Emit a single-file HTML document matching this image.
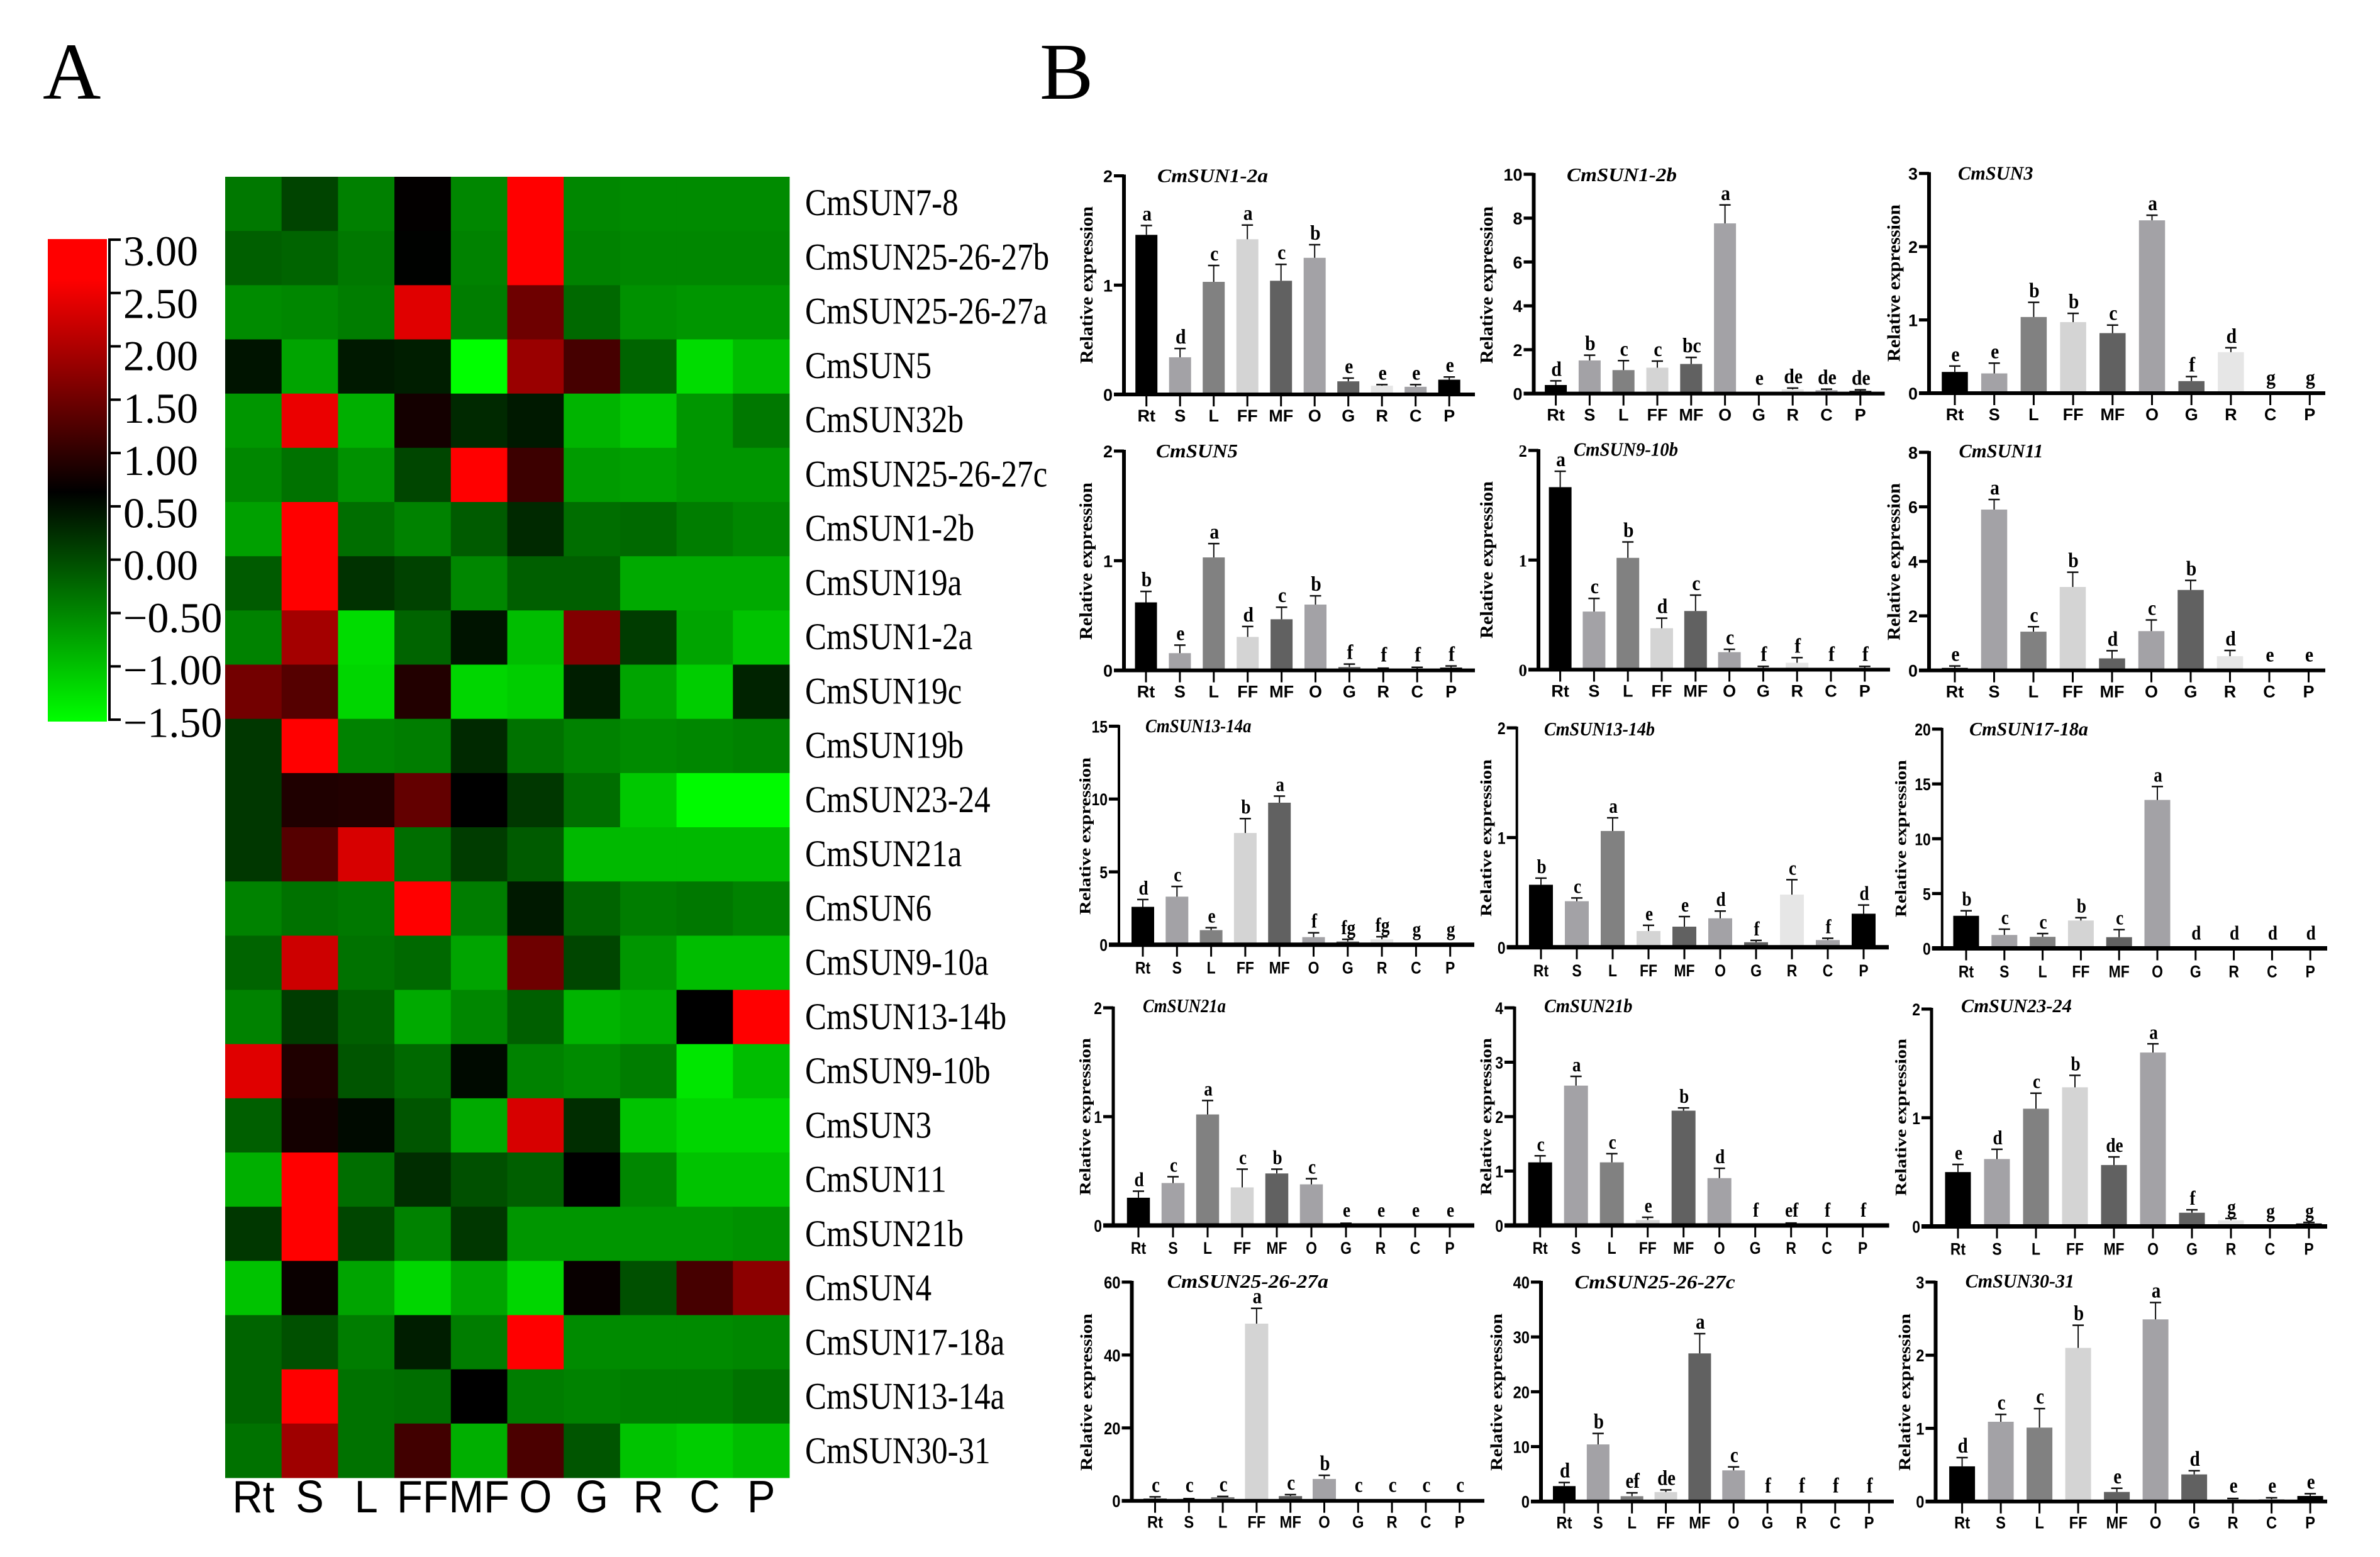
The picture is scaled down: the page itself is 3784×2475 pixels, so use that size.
<!DOCTYPE html>
<html lang="en">
<head>
<meta charset="utf-8">
<title>CmSUN expression heatmap and bar charts</title>
<style>
html,body{margin:0;padding:0;background:#fff;}
svg{display:block;}
</style>
</head>
<body>
<svg id="figure" xmlns="http://www.w3.org/2000/svg" width="3784" height="2475" viewBox="0 0 3784 2475">
<defs>
<linearGradient id="heat-gradient" x1="0" y1="1" x2="0" y2="0">
<stop offset="0" stop-color="#00ff00"/>
<stop offset="0.476" stop-color="#000000"/>
<stop offset="0.917" stop-color="#ff0000"/>
<stop offset="1" stop-color="#ff0000"/>
</linearGradient>
</defs>
<rect x="0" y="0" width="3784" height="2475" fill="#ffffff"/>
<text x="68" y="157" font-family="'Liberation Serif',serif" font-size="128" fill="#000">A</text>
<text x="1653" y="157" font-family="'Liberation Serif',serif" font-size="128" fill="#000">B</text>
<rect x="76" y="380" width="94" height="767" fill="url(#heat-gradient)"/>
<g id="colorbar-axis"></g>
<g id="heatmap"></g>
<g id="bar-panels"></g>
</svg>
<script>
/* ---------- data ---------- */
const tissues = ['Rt','S','L','FF','MF','O','G','R','C','P'];
const geneRows = ['CmSUN7-8','CmSUN25-26-27b','CmSUN25-26-27a','CmSUN5','CmSUN32b','CmSUN25-26-27c','CmSUN1-2b','CmSUN19a','CmSUN1-2a','CmSUN19c','CmSUN19b','CmSUN23-24','CmSUN21a','CmSUN6','CmSUN9-10a','CmSUN13-14b','CmSUN9-10b','CmSUN3','CmSUN11','CmSUN21b','CmSUN4','CmSUN17-18a','CmSUN13-14a','CmSUN30-31'];
const heatValues = [
[-.37,.07,-.43,.66,-.49,3,-.49,-.53,-.53,-.53],
[-.16,-.2,-.37,.62,-.45,3,-.45,-.49,-.49,-.49],
[-.53,-.49,-.41,2.4,-.41,1.5,-.24,-.58,-.62,-.62],
[.47,-.74,.43,.39,-1.5,1.85,1.19,-.2,-1.21,-.95],
[-.62,2.48,-.83,.8,.3,.43,-.87,-1.04,-.62,-.37],
[-.49,-.32,-.58,.05,3,1.11,-.66,-.7,-.62,-.62],
[-.7,3,-.28,-.45,-.12,.3,-.28,-.24,-.41,-.49],
[-.12,3,.22,.09,-.49,-.16,-.16,-.79,-.79,-.79],
[-.45,1.93,-1.21,-.2,.47,-.95,1.66,.14,-.74,-1],
[1.54,1.31,-1.16,.91,-1.16,-1.08,.39,-.74,-1.08,.35],
[.18,3,-.45,-.41,.3,-.32,-.45,-.53,-.49,-.45],
[.18,.88,.91,1.42,.64,.18,-.28,-1.04,-1.46,-1.46],
[.18,1.31,2.33,-.28,.14,-.12,-.91,-.91,-.91,-.91],
[-.45,-.32,-.37,3,-.41,.43,-.2,-.41,-.37,-.45],
[-.2,2.25,-.32,-.24,-.74,1.5,.05,-.62,-.95,-.95],
[-.45,.14,-.16,-.79,-.49,-.16,-.87,-.79,.64,3],
[2.4,.88,-.07,-.24,.56,-.45,-.53,-.41,-1.29,-.95],
[-.16,.8,.56,-.07,-.79,2.33,.26,-1,-1.16,-1.16],
[-.83,3,-.28,.26,-.03,-.16,.64,-.49,-1,-1],
[.18,3,.05,-.45,.18,-.62,-.62,-.62,-.62,-.58],
[-1,.72,-.74,-1.16,-.74,-1.16,.7,-.03,1.19,1.74],
[-.2,-.03,-.41,.39,-.41,3,-.53,-.53,-.53,-.49],
[-.2,3,-.32,-.28,.64,-.41,-.45,-.41,-.41,-.32],
[-.32,1.89,-.32,1.15,-.83,1.23,-.07,-1,-1.08,-.95]
];
const colorbarTicks = [3,2.5,2,1.5,1,0.5,0,-0.5,-1,-1.5];

const panelTitles = ['CmSUN1-2a','CmSUN1-2b','CmSUN3','CmSUN5','CmSUN9-10b','CmSUN11','CmSUN13-14a','CmSUN13-14b','CmSUN17-18a','CmSUN21a','CmSUN21b','CmSUN23-24','CmSUN25-26-27a','CmSUN25-26-27c','CmSUN30-31'];
const panelYMax = [2,10,3,2,2,8,15,2,20,2,4,2,60,40,3];
const panelTickStep = [1,2,1,1,1,2,5,1,5,1,1,1,20,10,1];
const panelMeans = [
[1.46,.34,1.03,1.42,1.04,1.25,.12,.08,.07,.135],
[.39,1.51,1.07,1.18,1.35,7.76,0,.19,.15,.12],
[.29,.27,1.04,.97,.82,2.36,.165,.56,0,0],
[.62,.157,1.03,.305,.466,.6,.03,.016,.012,.025],
[1.665,.53,1.02,.378,.535,.16,.016,.063,.005,.016],
[.09,5.9,1.42,3.06,.44,1.44,2.95,.52,0,0],
[2.6,3.3,1,7.67,9.75,.52,.22,.37,0,0],
[.57,.42,1.06,.148,.188,.264,.046,.48,.066,.306],
[2.97,1.22,1.05,2.54,1.02,13.54,0,0,0,0],
[.255,.39,1.02,.35,.478,.378,.012,.012,0,0],
[1.16,2.57,1.16,.1,2.11,.87,0,.03,0,0],
[.5,.62,1.083,1.28,.565,1.6,.126,.056,0,.027],
[.6,.5,1,48.6,1.3,6,0,0,0,0],
[2.8,10.4,.96,1.72,27,5.67,0,0,0,0],
[.48,1.09,1.01,2.1,.13,2.49,.37,.03,.03,.075]
];
const panelErrorTops = [
[1.545,.42,1.18,1.55,1.19,1.37,.15,.09,.09,.16],
[.58,1.75,1.5,1.48,1.65,8.6,0,.25,.2,.17],
[.37,.41,1.24,1.09,.93,2.43,.226,.62,0,0],
[.72,.23,1.156,.4,.576,.68,.057,.02,.028,.04],
[1.81,.65,1.165,.47,.68,.186,.03,.11,.005,.03],
[.16,6.27,1.6,3.6,.72,1.85,3.3,.73,0,0],
[3.1,4,1.17,8.66,10.2,.82,.37,.55,0,0],
[.63,.45,1.18,.2,.28,.33,.063,.616,.082,.385],
[3.43,1.75,1.35,2.8,1.71,14.76,0,0,0,0],
[.315,.448,1.148,.517,.517,.43,.02,.012,0,0],
[1.28,2.74,1.32,.15,2.16,1.05,0,.045,0,0],
[.57,.71,1.226,1.39,.64,1.68,.153,.073,0,.037],
[1.1,.6,1.2,52.8,1.7,7,0,0,0,0],
[3.45,12.4,1.57,2.1,30.6,6.3,0,0,0,0],
[.6,1.19,1.27,2.41,.18,2.72,.42,.04,.05,.106]
];
const panelLetters = [
['a','d','c','a','c','b','e','e','e','e'],
['d','b','c','c','bc','a','e','de','de','de'],
['e','e','b','b','c','a','f','d','g','g'],
['b','e','a','d','c','b','f','f','f','f'],
['a','c','b','d','c','c','f','f','f','f'],
['e','a','c','b','d','c','b','d','e','e'],
['d','c','e','b','a','f','fg','fg','g','g'],
['b','c','a','e','e','d','f','c','f','d'],
['b','c','c','b','c','a','d','d','d','d'],
['d','c','a','c','b','c','e','e','e','e'],
['c','a','c','e','b','d','f','ef','f','f'],
['e','d','c','b','de','a','f','g','g','g'],
['c','c','c','a','c','b','c','c','c','c'],
['d','b','ef','de','a','c','f','f','f','f'],
['d','c','c','b','e','a','d','e','e','e']
];

/* ---------- layout (pixel frame of each panel, not data) ---------- */
const tissueFills = ['#000000','#a3a2a6','#818181','#d4d4d4','#616161','#a3a2a6','#616161','#e6e6e6','#a3a2a6','#000000'];
const rowStyles = [
{fs:27,tsx:1,ls:33,lsx:.9,ys:26},
{fs:27,tsx:1,ls:33,lsx:.9,ys:26},
{fs:27,tsx:.85,ls:32,lsx:.85,ys:23},
{fs:27,tsx:.85,ls:32,lsx:.85,ys:23},
{fs:27,tsx:.88,ls:34,lsx:.85,ys:24}
];
const panelFrames = [
{ax:1787,y0:627,top:279.5,first:1822.7,dx:53.5,bw:35,end:2345,lx:1729,ly:453,tx:1840,te:2016,ty:279.5,av:6,ah:6,lab:43},
{ax:2438.5,y0:625.6,top:277,first:2473.6,dx:53.8,bw:35,end:2996.5,lx:2365,ly:453,tx:2491,te:2666,ty:278,av:6,ah:6,lab:43},
{ax:3067,y0:625,top:275.7,first:3108,dx:62.7,bw:41.5,end:3697,lx:3012.5,ly:450,tx:3113,te:3232.5,ty:275.6,av:6,ah:6,lab:43},
{ax:1787,y0:1065.6,top:717,first:1822,dx:53.9,bw:35,end:2345,lx:1728,ly:892,tx:1838,te:1968,ty:717,av:6,ah:6,lab:43},
{ax:2446,y0:1064.5,top:716,first:2480.6,dx:53.8,bw:36,end:3005,lx:2365,ly:890,tx:2502,te:2668,ty:714.5,av:6,ah:6,lab:43,serifTicks:true},
{ax:3067,y0:1065.6,top:719,first:3108,dx:62.5,bw:41.5,end:3697,lx:3012.5,ly:893,tx:3114.5,te:3248.5,ty:717,av:6,ah:6,lab:43},
{ax:1779,y0:1501.7,top:1154.4,first:1817,dx:54.3,bw:36,end:2344,lx:1725.5,ly:1329,tx:1821,te:1989.5,ty:1154,av:4,ah:7,lab:46},
{ax:2411.7,y0:1505.8,top:1157,first:2450,dx:57,bw:38,end:3003,lx:2363,ly:1332,tx:2455,te:2631,ty:1159,av:4,ah:7,lab:46},
{ax:3087.8,y0:1507.5,top:1159,first:3126,dx:60.8,bw:41,end:3700,lx:3022.7,ly:1333,tx:3131,te:3320,ty:1159,av:4,ah:7,lab:46},
{ax:1770,y0:1948,top:1602,first:1810,dx:55,bw:36.5,end:2344,lx:1725.5,ly:1775,tx:1817,te:1949,ty:1599,av:5,ah:7,lab:45},
{ax:2408,y0:1948,top:1602,first:2448.7,dx:57,bw:38,end:3003.6,lx:2363,ly:1775,tx:2455,te:2595.4,ty:1599,av:5,ah:7,lab:45},
{ax:3071,y0:1949.5,top:1604,first:3113,dx:62,bw:41,end:3700,lx:3022.7,ly:1776,tx:3118,te:3294,ty:1599,av:5,ah:7,lab:45},
{ax:1799.5,y0:2385.7,top:2038,first:1836.5,dx:53.8,bw:37,end:2360,lx:1728,ly:2213,tx:1855.6,te:2112,ty:2037,av:6,ah:6,lab:43},
{ax:2450,y0:2386.7,top:2038,first:2487,dx:53.85,bw:36,end:3011,lx:2380,ly:2213,tx:2503.6,te:2758.7,ty:2038,av:6,ah:6,lab:43},
{ax:3077.5,y0:2386.7,top:2038,first:3119.6,dx:61.5,bw:41,end:3700,lx:3029,ly:2213,tx:3124.8,te:3298,ty:2036.7,av:6,ah:6,lab:43}
];

/* ---------- helpers ---------- */
const NS = 'http://www.w3.org/2000/svg';
function make(parent, tag, attrs, content) {
  const el = document.createElementNS(NS, tag);
  for (const k in attrs) el.setAttribute(k, attrs[k]);
  if (content !== undefined) el.textContent = content;
  parent.appendChild(el);
  return el;
}
const SERIF = "'Liberation Serif',serif";
const SANS = "'Liberation Sans',sans-serif";

/* ---------- heatmap ---------- */
const heatLeft = 358, heatTop = 281, heatRight = 1255, heatBottom = 2349;
function heatX(col) { return heatLeft + col * (heatRight - heatLeft) / tissues.length; }
function heatY(row) { return heatTop + row * (heatBottom - heatTop) / geneRows.length; }
function heatColor(v) {
  const black = 0.64;
  if (v >= black) {
    const r = Math.min(255, Math.round((v - black) / 2.0 * 255));
    return 'rgb(' + r + ',0,0)';
  }
  const g = Math.min(255, Math.round((black - v) / 2.14 * 255));
  return 'rgb(0,' + g + ',0)';
}
const heatGroup = document.getElementById('heatmap');
heatValues.forEach(function (rowVals, r) {
  rowVals.forEach(function (v, c) {
    const cell = make(heatGroup, 'rect', {x: heatX(c), y: heatY(r), width: heatX(c + 1) - heatX(c) + 0.5, height: heatY(r + 1) - heatY(r) + 0.5, fill: heatColor(v)});
    
    
  });
});
geneRows.forEach(function (name, r) {
  const cy = (heatY(r) + heatY(r + 1)) / 2;
  const label = make(heatGroup, 'text', {transform: 'translate(1280,' + (cy + 18 + r * 0.08) + ') scale(0.85,1)', 'font-family': SERIF, 'font-size': 60, fill: '#000'}, name);
  
  
});
tissues.forEach(function (name, c) {
  const cx = (heatX(c) + heatX(c + 1)) / 2;
  const label = make(heatGroup, 'text', {transform: 'translate(' + cx + ',2404) scale(0.93,1)', 'text-anchor': 'middle', 'font-family': SANS, 'font-size': 72, fill: '#000'}, name);
  
  
});

/* ---------- colorbar axis ---------- */
const cbGroup = document.getElementById('colorbar-axis');
function cbY(v) { return 1144 - (v + 1.5) / 4.5 * 763; }
const cbLine = make(cbGroup, 'line', {x1: 174, x2: 174, y1: cbY(3) - 2, y2: cbY(-1.5) + 2, stroke: '#000', 'stroke-width': 4});


colorbarTicks.forEach(function (v) {
  const y = cbY(v);
  const tick = make(cbGroup, 'line', {x1: 174, x2: 192, y1: y, y2: y, stroke: '#000', 'stroke-width': 4});
  
  
  const txt = (v < 0 ? '\u2212' : '') + Math.abs(v).toFixed(2);
  const label = make(cbGroup, 'text', {x: 196, y: 422 + (y - cbY(3)) * 0.982, 'font-family': SERIF, 'font-size': 68, fill: '#000'}, txt);
  
  
});

/* ---------- bar panels ---------- */
const panelsGroup = document.getElementById('bar-panels');
panelTitles.forEach(function (title, p) {
  const f = panelFrames[p];
  const st = rowStyles[Math.floor(p / 3)];
  const ymax = panelYMax[p];
  const step = panelTickStep[p];
  const means = panelMeans[p];
  const errs = panelErrorTops[p];
  const letters = panelLetters[p];
  const xPos = function (i) { return f.first + i * f.dx; };
  const yPos = function (v) { return f.y0 - v / ymax * (f.y0 - f.top); };

  const g = make(panelsGroup, 'g', {});
  
  

  means.forEach(function (v, i) {
    const bar = make(g, 'rect', {x: xPos(i) - f.bw / 2, y: yPos(v), width: f.bw, height: f.y0 - yPos(v), fill: tissueFills[i]});
    
    
    if (errs[i] > v) {
      const stem = make(g, 'line', {x1: xPos(i), x2: xPos(i), y1: yPos(v), y2: yPos(errs[i]), stroke: '#111', 'stroke-width': 2});
      
      
      const cap = make(g, 'line', {x1: xPos(i) - 9, x2: xPos(i) + 9, y1: yPos(errs[i]), y2: yPos(errs[i]), stroke: '#111', 'stroke-width': 2.5});
      
      
    }
    const letterY = Math.min(yPos(errs[i]) - 8, f.y0 - 14);
    const sig = make(g, 'text', {transform: 'translate(' + (xPos(i) + 1) + ',' + letterY + ') scale(' + st.lsx + ',1)', 'text-anchor': 'middle', 'font-family': SERIF, 'font-weight': 'bold', 'font-size': st.ls, fill: '#000'}, letters[i]);
    
    

    const xt = make(g, 'line', {x1: xPos(i), x2: xPos(i), y1: f.y0, y2: f.y0 + 19, stroke: '#000', 'stroke-width': 3});
    
    
    const xl = make(g, 'text', {transform: 'translate(' + xPos(i) + ',' + (f.y0 + f.lab) + ') scale(' + st.tsx + ',1)', 'text-anchor': 'middle', 'font-family': SANS, 'font-weight': 'bold', 'font-size': st.fs, fill: '#000'}, tissues[i]);
    
    
  });

  const yAxis = make(g, 'line', {x1: f.ax, x2: f.ax, y1: f.top - 2, y2: f.y0, stroke: '#000', 'stroke-width': f.av});
  
  
  const xAxis = make(g, 'line', {x1: f.ax - 16, x2: f.end, y1: f.y0, y2: f.y0, stroke: '#000', 'stroke-width': f.ah});
  
  

  for (let v = 0; v <= ymax + 1e-9; v += step) {
    const yt = make(g, 'line', {x1: f.ax - 16, x2: f.ax, y1: yPos(v), y2: yPos(v), stroke: '#000', 'stroke-width': 5});
    
    
    const yl = make(g, 'text', {transform: 'translate(' + (f.ax - 18) + ',' + (yPos(v) + 10) + ') scale(' + st.tsx + ',1)', 'text-anchor': 'end', 'font-family': f.serifTicks ? SERIF : SANS, 'font-weight': 'bold', 'font-size': st.fs, fill: '#000'}, String(v));
    
    
  }

  const yTitle = make(g, 'text', {transform: 'translate(' + (f.lx + 8) + ',' + f.ly + ') rotate(-90)', 'text-anchor': 'middle', 'font-family': SERIF, 'font-weight': 'bold', 'font-size': st.ys + 2, textLength: 250, lengthAdjust: 'spacingAndGlyphs', fill: '#000'}, 'Relative expression');
  
  

  const head = make(g, 'text', {x: f.tx, y: f.ty + 10, 'font-family': SERIF, 'font-weight': 'bold', 'font-style': 'italic', 'font-size': 31, textLength: f.te - f.tx, lengthAdjust: 'spacingAndGlyphs', fill: '#000'}, title);
  
  
});
</script>
</body>
</html>
